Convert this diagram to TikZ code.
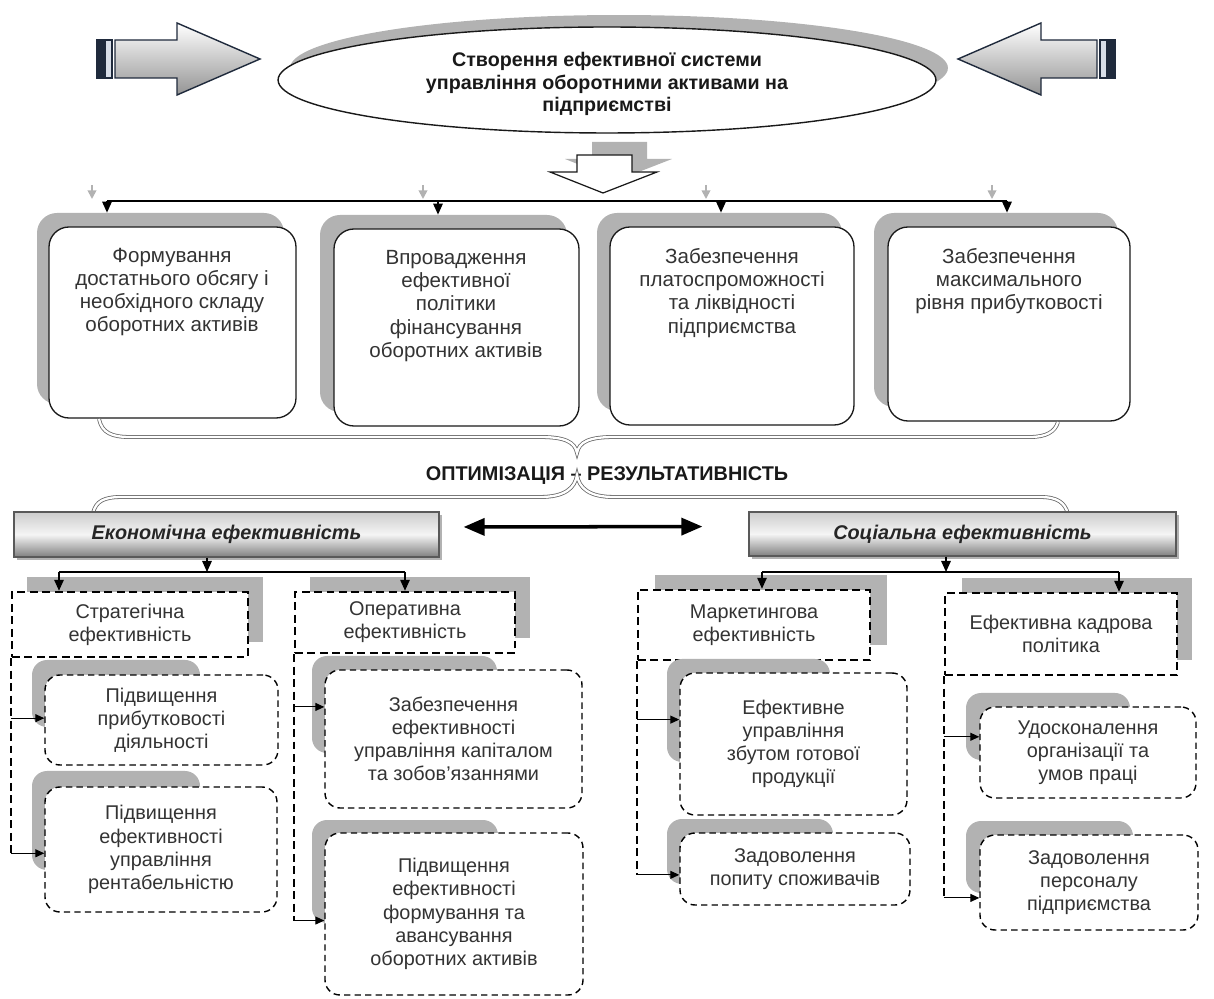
\documentclass[tikz,border=0pt]{standalone}
\usepackage{fontspec}
\setmainfont{Liberation Sans}
\usetikzlibrary{arrows.meta,shapes.geometric,fit,calc}
\definecolor{navy}{HTML}{1F2A3C}
\definecolor{barlight}{HTML}{D8DEE8}
\begin{document}
\begin{tikzpicture}[x=0.02cm,y=-0.02cm,
  txt/.style={align=center, inner sep=0pt, text=black!80, font=\fontsize{11.3}{13.2}\selectfont},
  ttxt/.style={align=center, inner sep=0pt, text=black!80, font=\fontsize{11.7}{13.2}\selectfont},
  btxt/.style={align=center, inner sep=0pt, text=black!90, font=\fontsize{11.2}{12.6}\selectfont\bfseries},
  htxt/.style={inner sep=0pt, text=black!85, font=\fontsize{11.3}{13.2}\selectfont\bfseries\itshape},
  shd/.style={fill=black!30, draw=none, inner sep=0pt},
  topbox/.style={draw=black!90, line width=0.75pt, fill=white, rounded corners=0.4cm, inner sep=0pt},
  hdash/.style={draw=black, line width=1.4pt, dash pattern=on 4.5pt off 2.6pt, fill=white, inner sep=0pt},
  sdash/.style={draw=black, line width=0.8pt, dash pattern=on 3.6pt off 2.4pt, fill=white, rounded corners=0.3cm, inner sep=0pt},
  hdr/.style={draw=black!65, line width=0.7pt, top color=black!20, bottom color=black!50, middle color=black!4, inner sep=0pt},
  arr/.style={-{Triangle[length=0.22cm,width=0.19cm]}, line width=0.8pt},
  garr/.style={-{Triangle[length=0.17cm,width=0.17cm]}, line width=1pt, draw=black!30},
  sarr/.style={-{Triangle[length=0.18cm,width=0.16cm]}, line width=0.6pt},
  vline/.style={line width=1.4pt, dash pattern=on 4.5pt off 2.6pt},
  dbl/.style={{Triangle[length=0.42cm,width=0.34cm]}-{Triangle[length=0.42cm,width=0.34cm]}, line width=2pt},
  brace/.style={draw=black!60, double=white, double distance=1.3pt, line width=0.45pt},
  blockarrow/.style={draw=navy, line width=0.8pt, top color=white, bottom color=black!42},
]
\useasboundingbox (0,0) rectangle (1214,999);

% ---------- top block arrows ----------
\path[blockarrow] (115,40) -- (177,40) -- (177,23) -- (260,59) -- (177,95) -- (177,78) -- (115,78) -- cycle;
\filldraw[draw=navy, fill=navy, line width=0.6pt] (97,40) rectangle (103,78);
\filldraw[draw=navy, fill=barlight, line width=0.6pt] (105,40) rectangle (112,78);

\path[blockarrow] (1097,40) -- (1041,40) -- (1041,23) -- (958,59) -- (1041,95) -- (1041,78) -- (1097,78) -- cycle;
\filldraw[draw=navy, fill=barlight, line width=0.6pt] (1100,40) rectangle (1107,78);
\filldraw[draw=navy, fill=navy, line width=0.6pt] (1109,40) rectangle (1115,78);

% ---------- goal ellipse ----------
\fill[black!30] (619,68) ellipse [x radius=6.58cm, y radius=1.06cm];
\node[ellipse, draw=black!90, line width=0.8pt, fill=white, minimum width=13.16cm, minimum height=2.12cm, inner sep=0pt] (goal) at (607,80) {};
\node[btxt] (goalt) at (607,84) {Створення ефективної системи\\управління оборотними активами на\\підприємстві};

% ---------- down block arrow ----------
\fill[black!30] (592,142) -- (647,142) -- (647,159) -- (672,159) -- (618,180) -- (565,159) -- (592,159) -- cycle;
\filldraw[draw=black!90, fill=white, line width=0.7pt] (577,155) -- (632,155) -- (632,172) -- (657,172) -- (603,193) -- (550,172) -- (577,172) -- cycle;

% ---------- top boxes ----------
\node[fit={(37,213)(284,404)}, shd, rounded corners=0.4cm] (s1) {};
\node[fit={(320,215)(567,412)}, shd, rounded corners=0.4cm] (s2) {};
\node[fit={(597,213)(842,411)}, shd, rounded corners=0.4cm] (s3) {};
\node[fit={(874,213)(1118,407)}, shd, rounded corners=0.4cm] (s4) {};
\node[fit={(49,227)(296,418)}, topbox] (b1) {};
\node[fit={(334,229)(579,426)}, topbox] (b2) {};
\node[fit={(610,227)(854,425)}, topbox] (b3) {};
\node[fit={(888,227)(1130,421)}, topbox] (b4) {};
\node[ttxt] (b1t) at (172,292) {Формування\\достатнього обсягу і\\необхідного складу\\оборотних активів};
\node[ttxt] (b2t) at (456,306) {Впровадження\\ефективної\\політики\\фінансування\\оборотних активів};
\node[ttxt] (b3t) at (732,293) {Забезпечення\\платоспроможності\\та ліквідності\\підприємства};
\node[ttxt] (b4t) at (1009,281) {Забезпечення\\максимального\\рівня прибутковості};

% top distribution line
\coordinate (t1) at (107,201);
\coordinate (t2) at (438,201);
\coordinate (t3) at (721,201);
\coordinate (t4) at (1007,201);
\draw[garr] (92,185) -- (92,199);
\draw[garr] (423,185) -- (423,199);
\draw[garr] (706,185) -- (706,199);
\draw[garr] (992,185) -- (992,199);
\draw[line width=0.9pt] (t1) -- (t4);
\draw[arr] (t1) -- (t1 |- s1.north);
\draw[arr] (t2) -- (t2 |- s2.north);
\draw[arr] (t3) -- (t3 |- s3.north);
\draw[arr] (t4) -- (t4 |- s4.north);

% ---------- braces and label ----------
\draw[brace] (99,419) .. controls (102,433) and (112,437) .. (130,437) -- (540,437) .. controls (565,437) and (575,442) .. (577,453) .. controls (579,442) and (589,437) .. (614,437) -- (1030,437) .. controls (1046,437) and (1055,432) .. (1058,422);
\node[btxt, font=\fontsize{11.3}{13}\selectfont\bfseries] (opt) at (607,476) {ОПТИМІЗАЦІЯ – РЕЗУЛЬТАТИВНІСТЬ};
\draw[brace] (93,513) .. controls (96,501) and (104,497) .. (122,497) -- (540,497) .. controls (565,497) and (575,488) .. (577,475) .. controls (579,488) and (589,497) .. (614,497) -- (1040,497) .. controls (1058,497) and (1065,503) .. (1068,514);

% ---------- headers ----------
\fill[black!30] (17,515) rectangle (442,560);
\fill[black!30] (752,515) rectangle (1179,559);
\node[fit={(14,512)(439,557)}, hdr, label={[htxt]center:Економічна ефективність}] (h1) {};
\node[fit={(749,512)(1176,556)}, hdr, label={[htxt]center:Соціальна ефективність}] (h2) {};
\draw[dbl, shorten <=0.48cm, shorten >=0.92cm] ([yshift=0.15cm]h1.east) -- ([yshift=0.15cm]h2.west);

% ---------- second level dashed boxes ----------
\node[fit={(27,577)(263,642)}, shd] (ds1) {};
\node[fit={(310,577)(530,638)}, shd] (ds2) {};
\node[fit={(655,575)(887,645)}, shd] (ds3) {};
\node[fit={(962,578)(1192,660)}, shd] (ds4) {};
\node[fit={(12,592)(248,657)}, hdash, label={[txt]center:{Стратегічна\\ефективність}}] (d1) {};
\node[fit={(295,592)(515,653)}, hdash, label={[txt]center:{Оперативна\\ефективність}}] (d2) {};
\node[fit={(638,590)(870,660)}, hdash, label={[txt]center:{Маркетингова\\ефективність}}] (d3) {};
\node[fit={(945,593)(1177,675)}, hdash, label={[txt]center:{Ефективна кадрова\\політика}}] (d4) {};

% economic branch
\coordinate (ec1) at (59,572);
\coordinate (ecm) at (207,572);
\coordinate (ec2) at (405,572);
\draw[arr] (h1.south -| ecm) -- (ecm);
\draw[line width=0.8pt] (ec1) -- (ec2);
\draw[arr] (ec1) -- (ec1 |- d1.north);
\draw[arr] (ec2) -- (ec2 |- d2.north);

% social branch
\coordinate (sc1) at (762,572);
\coordinate (scm) at (946,572);
\coordinate (sc2) at (1119,572);
\draw[arr] (h2.south -| scm) -- (scm);
\draw[line width=0.8pt] (sc1) -- (sc2);
\draw[arr] (sc1) -- (sc1 |- d3.north);
\draw[arr] (sc2) -- (sc2 |- d4.north);

% ---------- third level boxes ----------
\node[fit={(32,660)(200,727)}, shd, rounded corners=0.3cm] (es1) {};
\node[fit={(32,771)(200,870)}, shd, rounded corners=0.3cm] (es2) {};
\node[fit={(312,656)(497,753)}, shd, rounded corners=0.3cm] (os1) {};
\node[fit={(312,820)(498,923)}, shd, rounded corners=0.3cm] (os2) {};
\node[fit={(667,659)(830,762)}, shd, rounded corners=0.3cm] (ms1) {};
\node[fit={(667,819)(833,884)}, shd, rounded corners=0.3cm] (ms2) {};
\node[fit={(966,693)(1130,760)}, shd, rounded corners=0.3cm] (ks1) {};
\node[fit={(966,821)(1133,893)}, shd, rounded corners=0.3cm] (ks2) {};

\node[fit={(45,675)(278,765)}, sdash, label={[txt]center:{Підвищення\\прибутковості\\діяльності}}] (e1) {};
\node[fit={(45,787)(277,912)}, sdash, label={[txt]center:{Підвищення\\ефективності\\управління\\рентабельністю}}] (e2) {};
\node[fit={(325,670)(582,808)}, sdash, label={[txt]center:{Забезпечення\\ефективності\\управління капіталом\\та зобов’язаннями}}] (o1) {};
\node[fit={(325,833)(583,995)}, sdash, label={[txt]center:{Підвищення\\ефективності\\формування та\\авансування\\оборотних активів}}] (o2) {};
\node[fit={(680,673)(907,815)}, sdash, label={[txt]center:{Ефективне\\управління\\збутом готової\\продукції}}] (m1) {};
\node[fit={(680,833)(910,905)}, sdash, label={[txt]center:{Задоволення\\попиту споживачів}}] (m2) {};
\node[fit={(980,707)(1196,798)}, sdash, label={[txt]center:{Удосконалення\\організації та\\умов праці}}] (k1) {};
\node[fit={(980,835)(1198,930)}, sdash, label={[txt]center:{Задоволення\\персоналу\\підприємства}}] (k2) {};

% side connectors
\coordinate (e1in) at ($(e1.north west)!0.48!(e1.south west)$);
\coordinate (e2in) at ($(e2.north west)!0.53!(e2.south west)$);
\coordinate (o1in) at ($(o1.north west)!0.27!(o1.south west)$);
\coordinate (o2in) at ($(o2.north west)!0.54!(o2.south west)$);
\coordinate (m1in) at ($(m1.north west)!0.33!(m1.south west)$);
\coordinate (m2in) at ($(m2.north west)!0.58!(m2.south west)$);
\coordinate (k1in) at ($(k1.north west)!0.33!(k1.south west)$);
\coordinate (k2in) at ($(k2.north west)!0.66!(k2.south west)$);

\draw[vline] (d1.south west) -- (d1.south west |- e2in);
\draw[sarr] (d1.south west |- e1in) -- (e1in);
\draw[sarr] (d1.south west |- e2in) -- (e2in);

\draw[vline] (d2.south west) -- (d2.south west |- o2in);
\draw[sarr] (d2.south west |- o1in) -- (o1in);
\draw[sarr] (d2.south west |- o2in) -- (o2in);

\draw[vline] (d3.south west) -- (d3.south west |- m2in);
\draw[sarr] (d3.south west |- m1in) -- (m1in);
\draw[sarr] (d3.south west |- m2in) -- (m2in);

\draw[vline] (d4.south west) -- (d4.south west |- k2in);
\draw[sarr] (d4.south west |- k1in) -- (k1in);
\draw[sarr] (d4.south west |- k2in) -- (k2in);
\end{tikzpicture}
\end{document}
